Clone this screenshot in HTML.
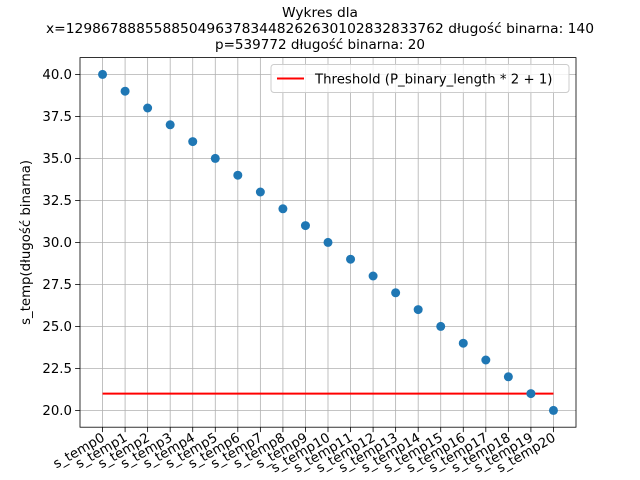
<!DOCTYPE html>
<html><head><meta charset="utf-8"><style>body{margin:0;background:#fff}svg{display:block;font-family:"DejaVu Sans","Liberation Sans",sans-serif}</style></head>
<body>
<svg id="c" width="640" height="480"></svg>
<script>
const categories=["s_temp0","s_temp1","s_temp2","s_temp3","s_temp4","s_temp5","s_temp6","s_temp7","s_temp8","s_temp9","s_temp10","s_temp11","s_temp12","s_temp13","s_temp14","s_temp15","s_temp16","s_temp17","s_temp18","s_temp19","s_temp20"];
const values=[40,39,38,37,36,35,34,33,32,31,30,29,28,27,26,25,24,23,22,21,20];
const threshold=[21];
const yTicks=[20,22.5,25,27.5,30,32.5,35,37.5,40];
const L=80,R=576,T=57.6,B=427.2;
const ns="http://www.w3.org/2000/svg";
const svg=document.getElementById('c');
const xmin=-1,xmax=categories.length;
const vmin=Math.min(...values),vmax=Math.max(...values),pad=(vmax-vmin)*0.05;
const ymin=vmin-pad,ymax=vmax+pad;
const X=i=>L+(i-xmin)/(xmax-xmin)*(R-L);
const Y=v=>B-(v-ymin)/(ymax-ymin)*(B-T);
function mk(t,a,p){const e=document.createElementNS(ns,t);for(const k in a)e.setAttribute(k,a[k]);(p||svg).appendChild(e);return e;}
const titleLines=["Wykres dla","x=1298678885588504963783448262630102832833762 długość binarna: 140","p=539772 długość binarna: 20"];
const titleW=[76,548,210];
titleLines.forEach((s,i)=>{
 const t=mk('text',{x:320,y:17+i*16,'text-anchor':'middle','font-size':13.3,textLength:titleW[i],lengthAdjust:'spacingAndGlyphs'});t.textContent=s;
 
 
});
categories.forEach((c,i)=>{
 const x=X(i);
 const g=mk('line',{x1:x,x2:x,y1:T,y2:B,stroke:'#b0b0b0','stroke-width':0.8});
 
 
 mk('line',{x1:x,x2:x,y1:B,y2:B+4.9,stroke:'#000','stroke-width':0.8});
 const t=mk('text',{x:0,y:0,'text-anchor':'end','font-size':13.3,transform:`translate(${x+3},${B+13}) rotate(-30)`});
 t.textContent=c;
 
 
});
yTicks.forEach(v=>{
 const y=Y(v);
 const g=mk('line',{x1:L,x2:R,y1:y,y2:y,stroke:'#b0b0b0','stroke-width':0.8});
 
 
 mk('line',{x1:L-4.9,x2:L,y1:y,y2:y,stroke:'#000','stroke-width':0.8});
 const t=mk('text',{x:L-8,y:y+4.8,'text-anchor':'end','font-size':13.3});
 t.textContent=v.toFixed(1);
 
 
});
const th=mk('line',{x1:X(0),x2:X(categories.length-1),y1:Y(threshold[0]),y2:Y(threshold[0]),stroke:'#ff0000','stroke-width':2});


values.forEach((v,i)=>{
 const p=mk('circle',{cx:X(i),cy:Y(v),r:4.5,fill:'#1f77b4'});
 
 
});
const f=mk('rect',{x:L,y:T,width:R-L,height:B-T,fill:'none',stroke:'#000','stroke-width':0.8});


const yl=mk('text',{x:0,y:0,'text-anchor':'middle','font-size':13.3,transform:`translate(30,${(T+B)/2}) rotate(-90)`});
yl.textContent="s_temp(długość binarna)";


const lg=mk('g',{});


mk('rect',{x:271,y:64.5,width:298,height:28,rx:3,fill:'#fff','fill-opacity':0.8,stroke:'#ccc'},lg);
mk('line',{x1:277,x2:304,y1:78.5,y2:78.5,stroke:'#ff0000','stroke-width':2},lg);
const lt=mk('text',{x:315,y:83.5,'font-size':13.3},lg);lt.textContent="Threshold (P_binary_length * 2 + 1)";
</script>
</body></html>
